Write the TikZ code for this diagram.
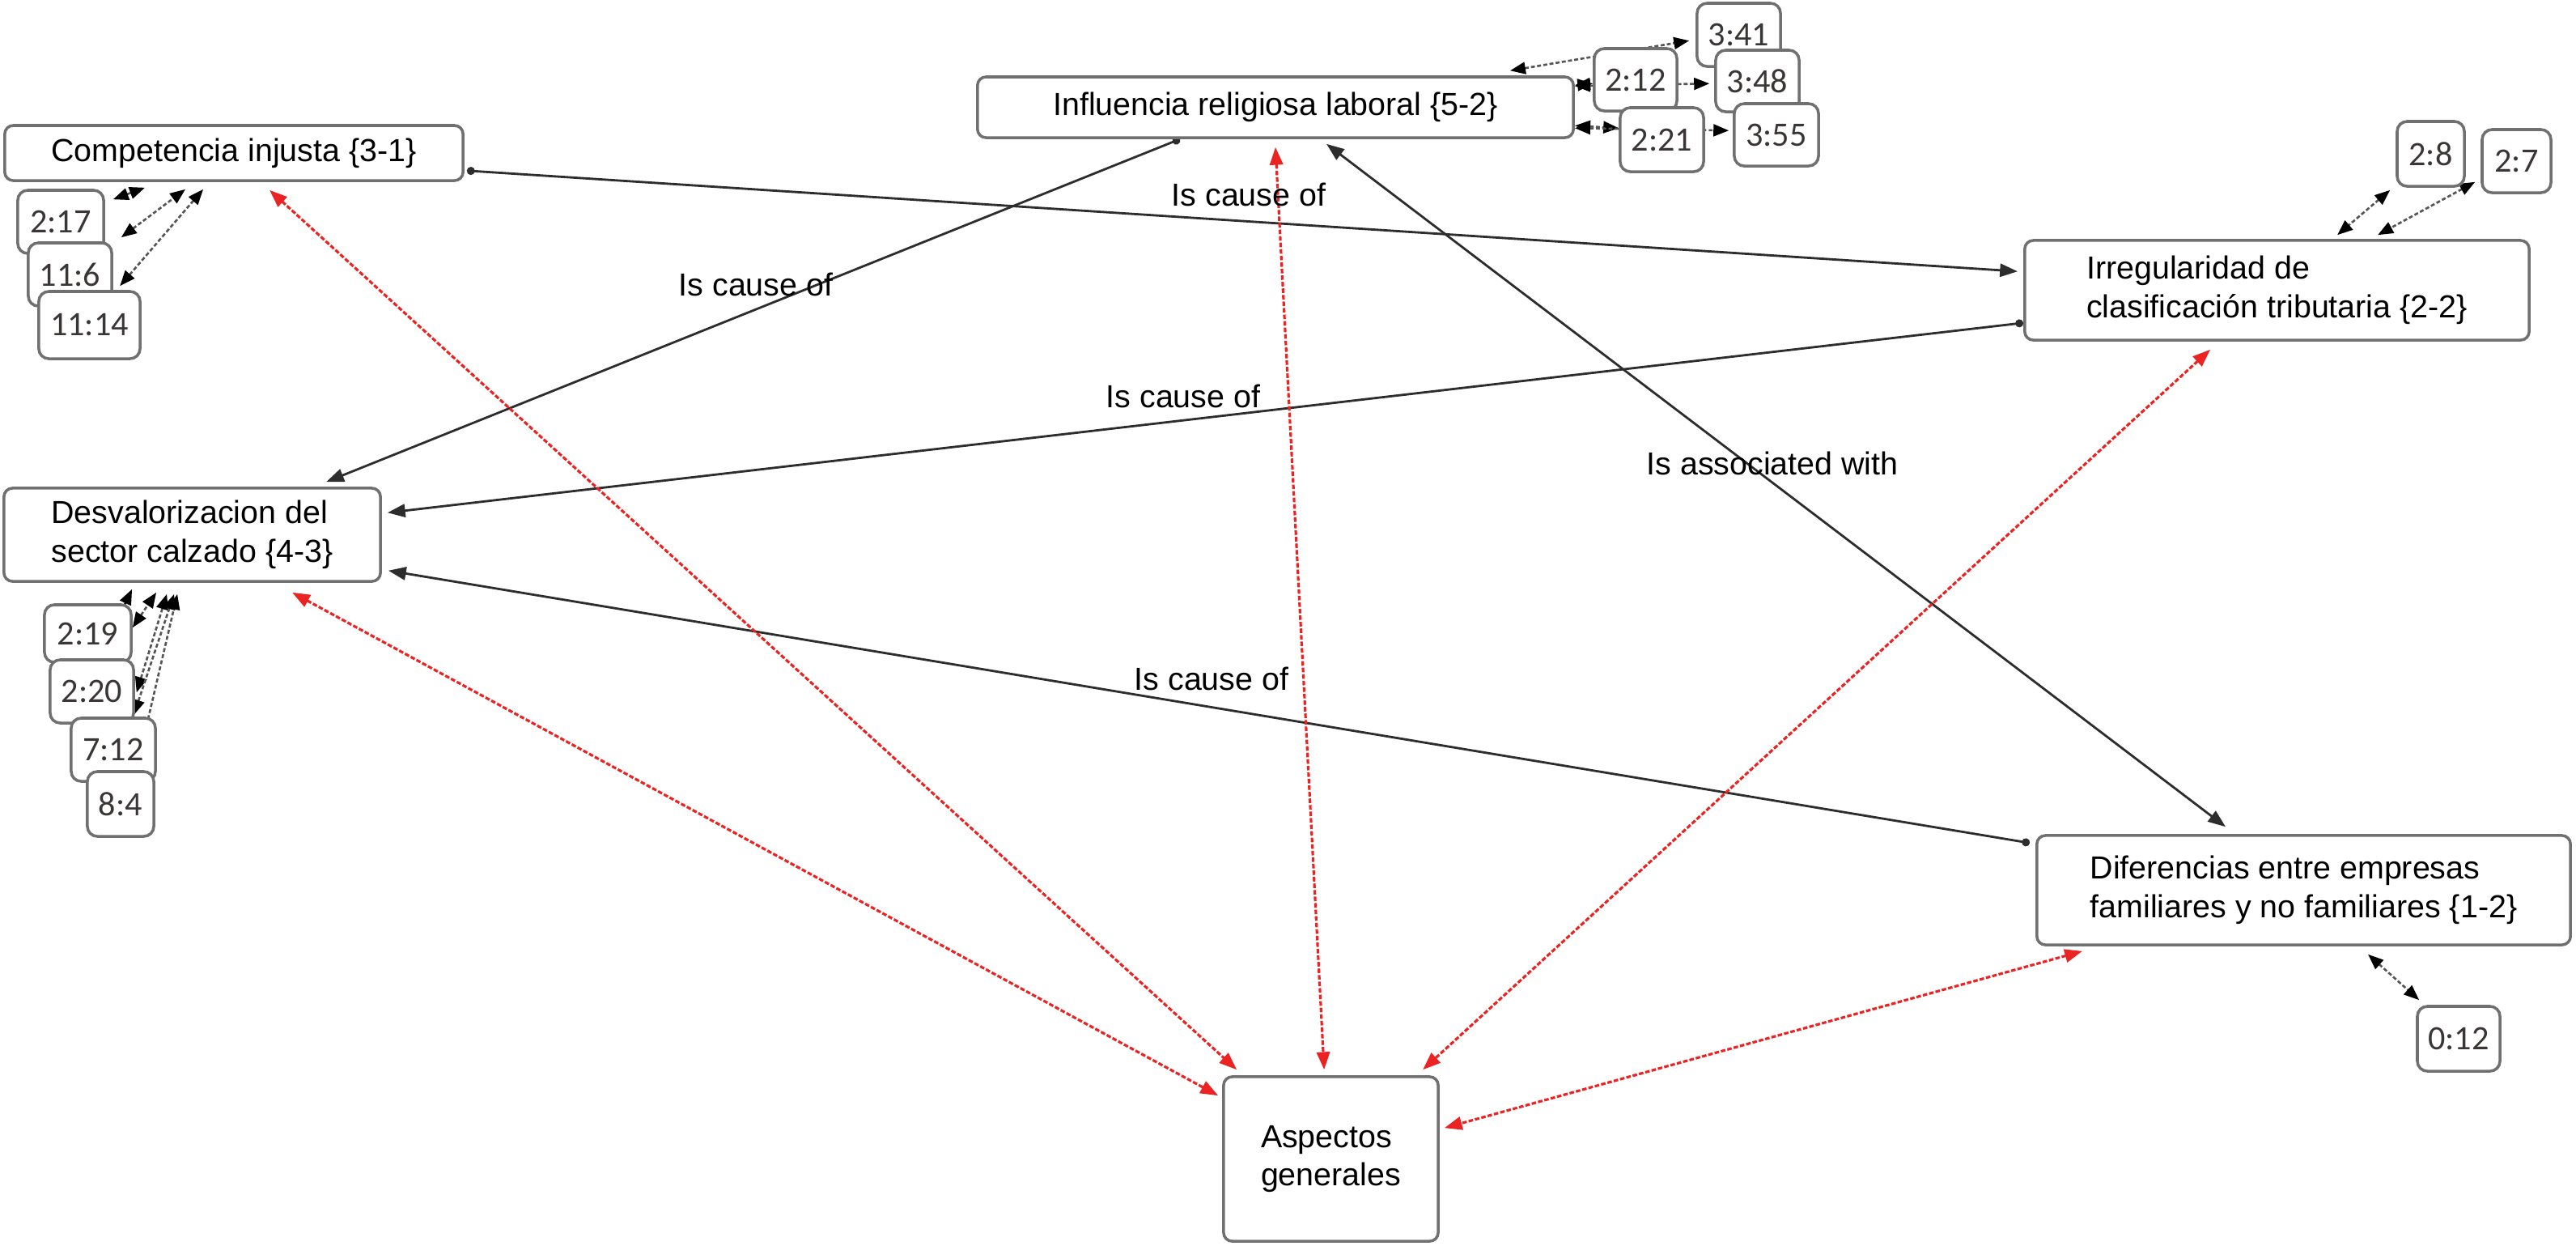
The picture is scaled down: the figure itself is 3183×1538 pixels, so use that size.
\documentclass[tikz,border=0pt]{standalone}
\usepackage{fontspec}
\setmainfont{Liberation Sans}
\newfontfamily\qfont{Carlito}
\usetikzlibrary{arrows.meta,calc,backgrounds}
\definecolor{boxgray}{RGB}{112,112,112}
\definecolor{lnk}{RGB}{45,45,45}
\definecolor{qtxt}{RGB}{58,54,54}
\definecolor{rlink}{RGB}{235,35,35}
\definecolor{qlnk}{RGB}{85,85,85}
\begin{document}
\begin{tikzpicture}[x=0.01cm,y=-0.01cm,
  font=\fontsize{11.2}{13.5}\selectfont,
  cbox/.style={draw=boxgray,line width=1pt,rounded corners=3pt,fill=white,inner sep=0pt,align=left,text=black},
  qbox/.style={draw=boxgray,line width=1pt,rounded corners=3.5pt,fill=white,inner sep=0pt,text=qtxt,font=\qfont\fontsize{12}{13}\selectfont},
  cause/.style={draw=lnk,line width=0.8pt,{Circle[length=2.8pt]}-{Triangle[length=6.2pt,width=4.6pt]}},
  assoc/.style={draw=lnk,line width=0.8pt,{Triangle[length=6.2pt,width=4.6pt]}-{Triangle[length=6.2pt,width=4.6pt]}},
  redlink/.style={draw=rlink,line width=0.9pt,dash pattern=on 1.6pt off 0.7pt,{Triangle[length=6.2pt,width=4.6pt]}-{Triangle[length=6.2pt,width=4.6pt]}},
  qlink/.style={draw=qlnk,line width=0.75pt,dash pattern=on 1.4pt off 0.8pt,{Triangle[length=5.4pt,width=4.2pt,color=black]}-{Triangle[length=5.4pt,width=4.2pt,color=black]}},
  lbl/.style={text=black,inner sep=0pt}]
\useasboundingbox (0,0) rectangle (3183,1538);

% main code boxes
\node[cbox,minimum width=5.66cm,minimum height=0.68cm] (comp) at (289,189) {Competencia injusta \{3-1\}};
\node[cbox,minimum width=7.36cm,minimum height=0.75cm] (infl) at (1576,132.5) {Influencia religiosa laboral \{5-2\}};
\node[cbox,minimum width=6.23cm,minimum height=1.23cm] (irreg) at (2813.5,358.5) {Irregularidad de\\clasificación tributaria \{2-2\}};
\node[cbox,minimum width=4.65cm,minimum height=1.15cm] (desv) at (237.5,660.5) {Desvalorizacion del\\sector calzado \{4-3\}};
\node[cbox,minimum width=6.59cm,minimum height=1.35cm] (dif) at (2846.5,1099.5) {Diferencias entre empresas\\familiares y no familiares \{1-2\}};
\node[cbox,minimum width=2.65cm,minimum height=2.03cm] (asp) at (1644.5,1431.5) {Aspectos\\generales};

% quotation boxes
\node[qbox,minimum width=1.06cm,minimum height=0.78cm] (q217) at (75,274) {2:17};
\node[qbox,minimum width=1.03cm,minimum height=0.78cm] (q116) at (86.5,339) {11:6};
\node[qbox,minimum width=1.25cm,minimum height=0.83cm] (q1114) at (110.5,401.5) {11:14};
\node[qbox,minimum width=1.07cm,minimum height=0.71cm] (q219) at (108.5,782.5) {2:19};
\node[qbox,minimum width=1.03cm,minimum height=0.78cm] (q220) at (113.5,854) {2:20};
\node[qbox,minimum width=1.04cm,minimum height=0.78cm] (q712) at (140,926) {7:12};
\node[qbox,minimum width=0.82cm,minimum height=0.80cm] (q84) at (149,993) {8:4};
\node[qbox,minimum width=1.03cm,minimum height=0.78cm] (q341) at (2148.5,43) {3:41};
\node[qbox,minimum width=1.03cm,minimum height=0.76cm] (q348) at (2171.5,100) {3:48};
\node[qbox,minimum width=1.04cm,minimum height=0.77cm] (q355) at (2195,166.5) {3:55};
\node[qbox,minimum width=1.02cm,minimum height=0.77cm] (q212) at (2021,98.5) {2:12};
\node[qbox,minimum width=1.03cm,minimum height=0.79cm] (q221) at (2053.5,172.5) {2:21};
\node[qbox,minimum width=0.83cm,minimum height=0.80cm] (q28) at (3003.5,190) {2:8};
\node[qbox,minimum width=0.85cm,minimum height=0.78cm] (q27) at (3109.5,199) {2:7};
\node[qbox,minimum width=1.02cm,minimum height=0.80cm] (q012) at (3038,1283) {0:12};

% relation labels
\node[lbl] (l1) at (1543,240) {Is cause of};
\node[lbl] (l2) at (934,351) {Is cause of};
\node[lbl] (l3) at (1462,489) {Is cause of};
\node[lbl] (l4) at (1497,838) {Is cause of};
\node[lbl] (l5) at (2190,572) {Is associated with};

\begin{scope}[on background layer]
% black relations
\draw[cause] ($(comp.south east)+(3,-14)$) -- ($(irreg.north west)+(-7,40)$);
\draw[cause] ($(infl.south west)+(252,0)$) -- ($(desv.north west)+(400,-6)$);
\draw[cause] ($(irreg.south west)+(0,-23)$) -- ($(desv.north east)+(7,32)$);
\draw[cause] ($(dif.north west)+(-7,11)$) -- ($(desv.south east)+(8,-15)$);
\draw[assoc] ($(infl.south west)+(433,6)$) -- ($(dif.north west)+(235,-9)$);
% red links to Aspectos generales
\draw[redlink] ($(comp.south west)+(329,10)$) -- ($(asp.north west)+(18,-7)$);
\draw[redlink] ($(infl.south west)+(370,10)$) -- ($(asp.north west)+(126,-7)$);
\draw[redlink] ($(irreg.south west)+(231,10)$) -- ($(asp.north west)+(248,-7)$);
\draw[redlink] ($(desv.south west)+(358,12)$) -- ($(asp.north west)+(-5,25)$);
\draw[redlink] ($(dif.south west)+(58,6)$) -- ($(asp.north east)+(6,65)$);
% quotation links
\draw[qlink] ($(q217.north east)+(10,13)$) -- ($(comp.south west)+(175,7)$);
\draw[qlink] ($(q116.north east)+(10,-5)$) -- ($(comp.south west)+(225,9)$);
\draw[qlink] ($(q1114.north west)+(102,-5)$) -- ($(comp.south west)+(247,9)$);
\draw[qlink] ($(q219.north east)+(-8,-2)$) -- ($(desv.south west)+(160,8)$);
\draw[qlink] ($(q219.north east)+(0,30)$) -- ($(desv.south west)+(190,12)$);
\draw[qlink] ($(q220.north east)+(2,42)$) -- ($(desv.south west)+(203,14)$);
\draw[qlink] ($(q712.north west)+(79,-2)$) -- ($(desv.south west)+(212,14)$);
\draw[qlink] ($(q84.north west)+(62,0)$) -- ($(desv.south west)+(216,14)$);
\draw[qlink] ($(infl.north east)+(0,12)$) -- ($(q212.north west)+(0,45)$);
\draw[qlink] ($(infl.north east)+(0,13)$) -- ($(q348.north west)+(-6,43)$);
\draw[qlink] ($(infl.north east)+(-80,-6)$) -- ($(q341.north west)+(-8,48)$);
\draw[qlink] ($(infl.north east)+(0,62)$) -- ($(q221.north west)+(0,27)$);
\draw[qlink] ($(infl.north east)+(0,65)$) -- ($(q355.north west)+(-5,35)$);
\draw[qlink] ($(q28.south west)+(-7,3)$) -- ($(irreg.north west)+(388,-5)$);
\draw[qlink] ($(q27.south west)+(-7,-15)$) -- ($(irreg.north west)+(438,-5)$);
\draw[qlink] ($(dif.south west)+(411,10)$) -- ($(q012.north west)+(4,-6)$);
\end{scope}
\end{tikzpicture}
\end{document}
